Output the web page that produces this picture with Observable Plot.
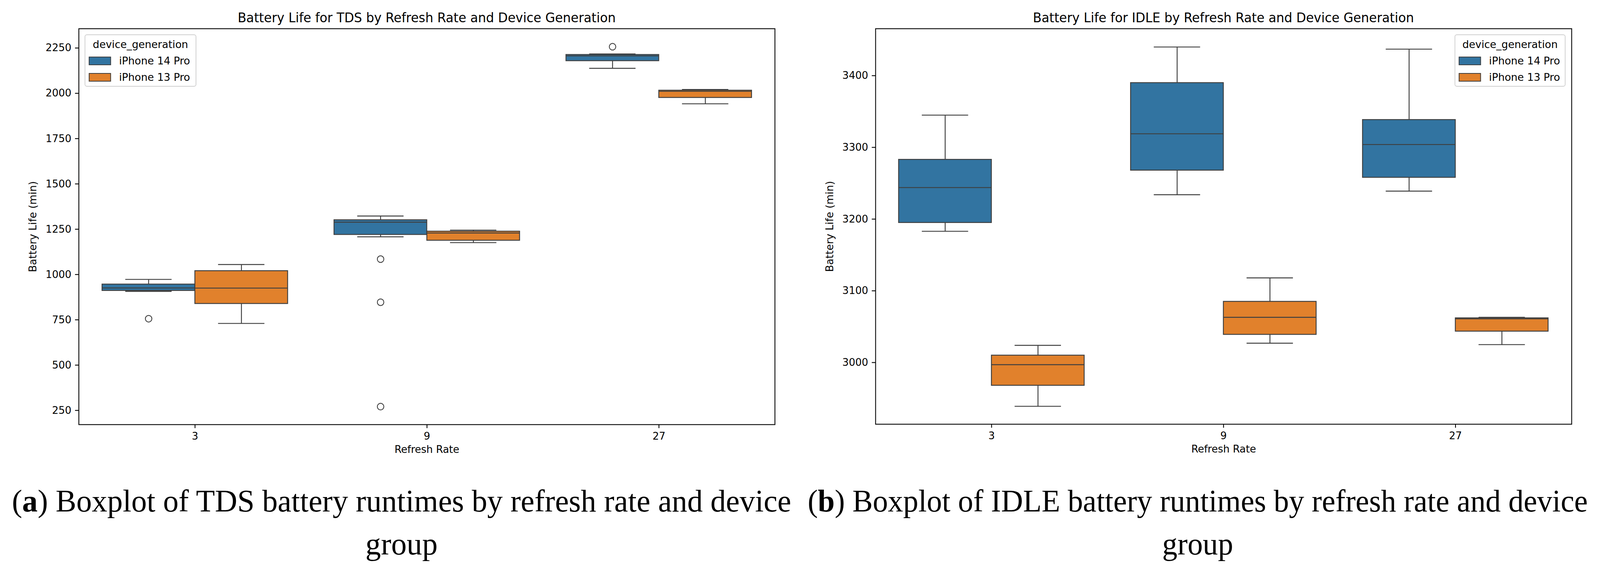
<!DOCTYPE html>
<html>
<head>
<meta charset="utf-8">
<script src="https://cdn.jsdelivr.net/npm/d3@7"></script>
<script src="https://cdn.jsdelivr.net/npm/@observablehq/plot@0.6"></script>
<style>
html, body { margin: 0; padding: 0; background: #fff; overflow: hidden; }
#page { position: relative; width: 4180px; height: 1465px; overflow: hidden; background: #fff; font-family: "DejaVu Sans", sans-serif; color: #000; }
.title { position: absolute; top: 29px; font-size: 33px; line-height: 1; white-space: nowrap; transform: translateX(-50%); }
.chart { position: absolute; top: 0; }
.legend { position: absolute; box-sizing: border-box; border: 2px solid #d0d0d0; border-radius: 6px; background: rgba(255,255,255,0.8); font-size: 27px; }
.legend .ltitle { position: absolute; left: 0; right: 0; top: 8px; text-align: center; line-height: 32px; white-space: nowrap; }
.legend .swatch { position: absolute; box-sizing: border-box; width: 58px; height: 22px; border: 2.4px solid #3f3f3f; }
.legend .llabel { position: absolute; line-height: 32px; white-space: nowrap; }
.caption { position: absolute; top: 1228px; text-align: center; white-space: nowrap; transform: translateX(-50%); font-family: "Liberation Serif", serif; font-size: 79.6px; line-height: 110px; }
</style>
</head>
<body>
<div id="page"></div>
<script>
// ---------- data ----------
const rates = ["3", "9", "27"];
const devices = ["iPhone 14 Pro", "iPhone 13 Pro"];
const deviceColors = ["#3274a1", "#e1812c"];

// group order: (3,14 Pro) (3,13 Pro) (9,14 Pro) (9,13 Pro) (27,14 Pro) (27,13 Pro)
const groupRate = ["3", "3", "9", "9", "27", "27"];
const groupDevice = ["iPhone 14 Pro", "iPhone 13 Pro", "iPhone 14 Pro", "iPhone 13 Pro", "iPhone 14 Pro", "iPhone 13 Pro"];

// TDS panel
const tdsWhiskerLow  = [907, 730, 1208, 1176, 2138, 1942];
const tdsQ1          = [911, 839, 1220, 1188, 2179, 1976];
const tdsMedian      = [926, 925, 1289, 1229, 2207, 2011];
const tdsQ3          = [946, 1020, 1301, 1238, 2213, 2016];
const tdsWhiskerHigh = [973, 1055, 1323, 1245, 2217, 2021];
const tdsOutlierRate   = ["3", "9", "9", "9", "27"];
const tdsOutlierDevice = ["iPhone 14 Pro", "iPhone 14 Pro", "iPhone 14 Pro", "iPhone 14 Pro", "iPhone 14 Pro"];
const tdsOutlierValue  = [756, 1085, 847, 271, 2257];
const tdsTicks = [250, 500, 750, 1000, 1250, 1500, 1750, 2000, 2250];
const tdsDomain = [171.7, 2356.6];

// IDLE panel
const idleWhiskerLow  = [3183, 2939, 3234, 3027, 3239, 3025];
const idleQ1          = [3195, 2968, 3268, 3039, 3258, 3043.5];
const idleMedian      = [3244, 2997, 3319, 3063, 3304, 3061];
const idleQ3          = [3283, 3010, 3390, 3085, 3338.5, 3062];
const idleWhiskerHigh = [3345, 3024, 3440, 3118, 3437, 3063];
const idleOutlierRate   = [];
const idleOutlierDevice = [];
const idleOutlierValue  = [];
const idleTicks = [3000, 3100, 3200, 3300, 3400];
const idleDomain = [2914, 3465.5];

const titles = [
  "Battery Life for TDS by Refresh Rate and Device Generation",
  "Battery Life for IDLE by Refresh Rate and Device Generation"
];
const yLabel = "Battery Life (min)";
const xLabel = "Refresh Rate";
const legendTitle = "device_generation";
const captionLetters = ["a", "b"];
const captionTexts = [
  ["Boxplot of TDS battery runtimes by refresh rate and device", "group"],
  ["Boxplot of IDLE battery runtimes by refresh rate and device", "group"]
];

// ---------- helpers ----------
const GRAY = "#3f3f3f";
const LW = 2.4;
const PAGE_W = 4180, PAGE_H = 1465;

function buildRows(lo, q1, med, q3, hi) {
  return groupRate.map((r, i) => ({rate: r, device: groupDevice[i], lo: lo[i], q1: q1[i], median: med[i], q3: q3[i], hi: hi[i]}));
}
function buildOutliers(rr, dd, vv) {
  return rr.map((r, i) => ({rate: r, device: dd[i], value: vv[i]}));
}

function boxPanel(cfg) {
  const W = (cfg.width - cfg.marginLeft - cfg.marginRight) / rates.length;
  const marks = [];
  devices.forEach((dev, i) => {
    const rowsD = cfg.rows.filter(r => r.device === dev);
    const outD = cfg.outliers.filter(r => r.device === dev);
    const boxL = i === 0 ? 0.1 * W : 0.5 * W, boxR = i === 0 ? 0.5 * W : 0.1 * W;
    const capL = i === 0 ? 0.2 * W : 0.6 * W, capR = i === 0 ? 0.6 * W : 0.2 * W;
    const dx = i === 0 ? -0.2 * W : 0.2 * W;
    marks.push(
      Plot.ruleX(rowsD, {x: "rate", y1: "lo", y2: "q1", dx, stroke: GRAY, strokeWidth: LW}),
      Plot.ruleX(rowsD, {x: "rate", y1: "q3", y2: "hi", dx, stroke: GRAY, strokeWidth: LW}),
      Plot.tickY(rowsD, {x: "rate", y: "lo", insetLeft: capL, insetRight: capR, stroke: GRAY, strokeWidth: LW}),
      Plot.tickY(rowsD, {x: "rate", y: "hi", insetLeft: capL, insetRight: capR, stroke: GRAY, strokeWidth: LW}),
      Plot.barY(rowsD, {x: "rate", y1: "q1", y2: "q3", fill: "device", stroke: GRAY, strokeWidth: LW, insetLeft: boxL, insetRight: boxR}),
      Plot.tickY(rowsD, {x: "rate", y: "median", insetLeft: boxL, insetRight: boxR, stroke: GRAY, strokeWidth: LW}),
      Plot.dot(outD, {x: "rate", y: "value", dx, r: 8.5, stroke: GRAY, strokeWidth: 2.2, fill: "none"})
    );
  });
  return Plot.plot({
    width: cfg.width,
    height: cfg.height,
    marginLeft: cfg.marginLeft,
    marginRight: cfg.marginRight,
    marginTop: cfg.marginTop,
    marginBottom: cfg.marginBottom,
    style: {fontFamily: "DejaVu Sans", fontSize: "26.5px", color: "black", background: "white", maxWidth: "none", overflow: "visible"},
    x: {type: "band", domain: rates, padding: 0},
    y: {domain: cfg.domain},
    color: {domain: devices, range: deviceColors},
    marks: [
      ...marks,
      Plot.frame({stroke: "black", strokeWidth: 2.2}),
      Plot.axisY({ticks: cfg.ticks, tickFormat: d => String(d), tickSize: 9.5, tickPadding: 10, fontSize: 26.5, strokeWidth: 2.2,
                  label: yLabel, labelAnchor: "center", labelOffset: 130, labelArrow: "none"}),
      Plot.axisX({tickSize: 9.5, tickPadding: 10, fontSize: 26.5, strokeWidth: 2.2,
                  label: xLabel, labelAnchor: "center", labelOffset: 72, labelArrow: "none"})
    ]
  });
}

function legend(page, left, top, width, height) {
  const el = document.createElement("div");
  el.className = "legend";
  Object.assign(el.style, {left: left + "px", top: top + "px", width: width + "px", height: height + "px"});
  const t = document.createElement("div");
  t.className = "ltitle";
  t.textContent = legendTitle;
  el.appendChild(t);
  devices.forEach((d, i) => {
    const sw = document.createElement("div");
    sw.className = "swatch";
    Object.assign(sw.style, {left: "9px", top: (55 + i * 42) + "px", background: deviceColors[i]});
    el.appendChild(sw);
    const lb = document.createElement("div");
    lb.className = "llabel";
    Object.assign(lb.style, {left: "88px", top: (50 + i * 42) + "px"});
    lb.textContent = d;
    el.appendChild(lb);
  });
  page.appendChild(el);
}

// ---------- layout ----------
const page = document.getElementById("page");

const panels = [
  {left: 0, width: 2060, height: 1200, marginLeft: 205.5, marginRight: 36, marginTop: 73, marginBottom: 113,
   rows: buildRows(tdsWhiskerLow, tdsQ1, tdsMedian, tdsQ3, tdsWhiskerHigh),
   outliers: buildOutliers(tdsOutlierRate, tdsOutlierDevice, tdsOutlierValue),
   ticks: tdsTicks, domain: tdsDomain, legend: [221, 88, 292, 134],
   captionCenter: 1049, captionWidth: 2036},
  {left: 2090, width: 2090, height: 1200, marginLeft: 197, marginRight: 74.5, marginTop: 73, marginBottom: 114,
   rows: buildRows(idleWhiskerLow, idleQ1, idleMedian, idleQ3, idleWhiskerHigh),
   outliers: buildOutliers(idleOutlierRate, idleOutlierDevice, idleOutlierValue),
   ticks: idleTicks, domain: idleDomain, legend: [3800, 88, 290, 134],
   captionCenter: 3129, captionWidth: 2038}
];

panels.forEach((cfg, k) => {
  const div = document.createElement("div");
  div.className = "chart";
  div.style.left = cfg.left + "px";
  div.style.width = cfg.width + "px";
  div.appendChild(boxPanel(cfg));
  page.appendChild(div);

  const t = document.createElement("div");
  t.className = "title";
  t.style.left = (cfg.left + cfg.marginLeft + (cfg.width - cfg.marginLeft - cfg.marginRight) / 2) + "px";
  t.textContent = titles[k];
  page.appendChild(t);

  legend(page, ...cfg.legend);

  const c = document.createElement("div");
  c.className = "caption";
  c.style.left = cfg.captionCenter + "px";
  const line1 = document.createElement("span");
  line1.innerHTML = "(<b>" + captionLetters[k] + "</b>) " + captionTexts[k][0];
  c.appendChild(line1);
  c.appendChild(document.createElement("br"));
  c.appendChild(document.createTextNode(captionTexts[k][1]));
  page.appendChild(c);
  // fit the first caption line to the reference's measured line width
  const w = line1.getBoundingClientRect().width;
  if (w > 0) c.style.fontSize = (79.6 * cfg.captionWidth / w).toFixed(2) + "px";
});

// If the actual viewport is smaller than the intended canvas, fit the page into it.
function fitPage() {
  const vw = Math.min(window.innerWidth || PAGE_W, document.documentElement.clientWidth || PAGE_W);
  const vh = Math.min(window.innerHeight || PAGE_H, document.documentElement.clientHeight || PAGE_H);
  const sx = Math.min(1, vw / PAGE_W), sy = Math.min(1, vh / PAGE_H);
  if (sx < 1 || sy < 1) {
    page.style.transformOrigin = "0 0";
    page.style.transform = "scale(" + sx + "," + sy + ")";
  } else {
    page.style.transform = "";
  }
}
fitPage();
window.addEventListener("resize", fitPage);
</script>
</body>
</html>
